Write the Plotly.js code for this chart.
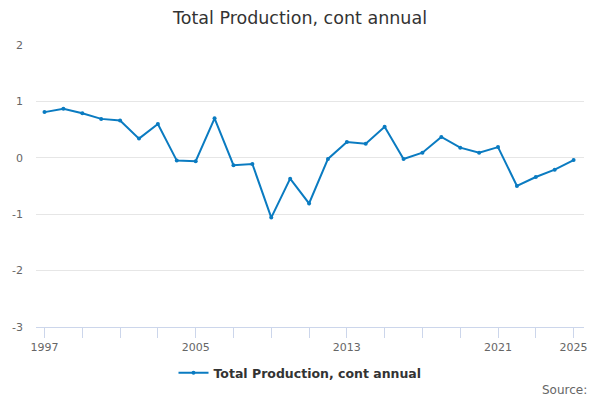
<!DOCTYPE html>
<html>
<head>
<meta charset="utf-8">
<script src="https://cdn.plot.ly/plotly-3.0.1.min.js"></script>
<style>
  html, body { margin: 0; padding: 0; background: #fff; }
  #plot { width: 600px; height: 400px; }
</style>
</head>
<body>
<div id="plot"></div>
<script>
const years = [1997, 1998, 1999, 2000, 2001, 2002, 2003, 2004, 2005, 2006,
               2007, 2008, 2009, 2010, 2011, 2012, 2013, 2014, 2015, 2016,
               2017, 2018, 2019, 2020, 2021, 2022, 2023, 2024, 2025];
const production = [0.81, 0.87, 0.79, 0.69, 0.66, 0.34, 0.60, -0.05, -0.06, 0.70,
                    -0.13, -0.11, -1.06, -0.37, -0.81, -0.02, 0.28, 0.25, 0.55, -0.02,
                    0.09, 0.37, 0.18, 0.09, 0.19, -0.50, -0.34, -0.21, -0.04];

const tickYears = [1997, 1999, 2001, 2003, 2005, 2007, 2009, 2011, 2013,
                   2015, 2017, 2019, 2021, 2023, 2025];
const labelYears = [1997, 2005, 2013, 2021, 2025];
const yTicks = [-3, -2, -1, 0, 1, 2];

const series = {
    type: "scatter",
    mode: "lines+markers",
    name: "Total Production, cont annual",
    x: years,
    y: production,
    line: { color: "#0a7bc1", width: 2 },
    marker: { color: "#0a7bc1", size: 4 }
};

Plotly.newPlot("plot", [series], {
    width: 600,
    height: 400,
    margin: { l: 36, r: 16, t: 45, b: 73 },
    paper_bgcolor: "#fff",
    plot_bgcolor: "#fff",
    font: { family: "DejaVu Sans, sans-serif", color: "#666" },
    title: {
        text: "Total Production, cont annual",
        font: { size: 17.5, color: "#333" },
        x: 0.5, xanchor: "center",
        y: 0.955, yanchor: "middle"
    },
    xaxis: {
        range: [1996.55, 2025.55],
        tickvals: tickYears,
        ticktext: tickYears.map(y => labelYears.includes(y) ? String(y) : ""),
        ticks: "outside",
        ticklen: 10,
        tickcolor: "#ccd6eb",
        showline: true,
        linecolor: "#ccd6eb",
        showgrid: false,
        zeroline: false,
        tickfont: { size: 11, color: "#666" },
        fixedrange: true
    },
    yaxis: {
        range: [-3, 2],
        tickvals: yTicks,
        ticktext: yTicks.map(String),
        showgrid: true,
        gridcolor: "#e6e6e6",
        zeroline: false,
        ticks: "",
        ticklabelstandoff: 12,
        tickfont: { size: 11, color: "#666" },
        fixedrange: true
    },
    showlegend: true,
    legend: {
        orientation: "h",
        xref: "container", yref: "container",
        x: 0.5, xanchor: "center",
        y: 0.067, yanchor: "middle",
        itemwidth: 30,
        font: { size: 12.5, color: "#333", weight: "bold" }
    },
    annotations: [{
        text: "Source:",
        xref: "paper", yref: "paper",
        x: 1.01, xanchor: "right",
        y: -0.225, yanchor: "middle",
        showarrow: false,
        font: { size: 12, color: "#666" }
    }]
}, { displayModeBar: false, staticPlot: true });
</script>
</body>
</html>
